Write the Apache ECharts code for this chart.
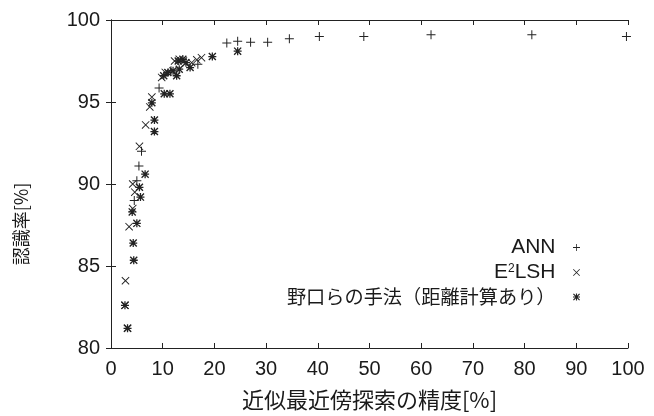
<!DOCTYPE html>
<html><head><meta charset="utf-8">
<script src="https://cdn.jsdelivr.net/npm/echarts@6/dist/echarts.min.js"></script>
<style>html,body{margin:0;padding:0;background:#fff}#c{width:654px;height:416px}</style>
</head><body><div id="c"></div>
<script>
const seriesNames = ['ANN', 'E2LSH', '野口らの手法（距離計算あり）'];
const ann = [[4.5,89.0],[5.0,90.2],[5.4,91.1],[5.9,92.0],[9.3,95.85],[11.6,96.9],[16.8,97.3],
  [22.4,98.6],[24.5,98.7],[27.0,98.65],[30.3,98.65],[34.5,98.85],[40.3,99.0],[48.9,99.0],[61.9,99.1],[81.4,99.1],[99.7,99.0]];
const e2lsh = [[2.7,82.6],[2.8,84.1],[3.2,81.2],[3.5,87.4],[4.2,88.5],[4.2,90.0],[4.6,89.5],[5.5,92.3],
  [6.7,93.6],[7.5,94.7],[7.9,95.3],[9.8,96.5],[10.5,96.8],[12.3,97.5],[13.2,97.6],[14.0,97.5],[15.6,97.4],[16.6,97.57],[17.5,97.7]];
const noguchi = [[2.7,82.6],[3.2,81.2],[4.4,85.35],[4.3,86.4],[5.0,87.6],[4.1,88.3],[5.7,89.2],[5.5,89.8],[6.6,90.6],
  [8.4,93.2],[8.4,93.9],[7.9,94.95],[10.3,95.5],[11.4,95.5],[10.2,96.6],[11.0,96.8],[12.0,96.9],[12.7,96.6],[13.2,97.0],
  [13.0,97.5],[13.9,97.6],[14.5,97.4],[15.3,97.1],[19.6,97.77],[24.5,98.1]];

const PLUS = 'path://M0,4.45H10V5.55H0Z M4.45,0H5.55V10H4.45Z';
const CROSS = 'path://M0,0.8L0.8,0L10,9.2L9.2,10Z M9.2,0L10,0.8L0.8,10L0,9.2Z';
const STAR = 'path://M0,1.2L1.2,0L10,8.8L8.8,10Z M8.8,0L10,1.2L1.2,10L0,8.8Z M0,4.2H10V5.8H0Z M4.2,0H5.8V10H4.2Z M3,3H7V7H3Z';
const INK = '#222';
const TXT = '#1a1a1a';
const FONT = '"Liberation Sans", Arial, "Noto Sans CJK JP", sans-serif';
const JFONT = '"Noto Sans CJK JP", "Liberation Sans", sans-serif';

const chart = echarts.init(document.getElementById('c'), null, {renderer: 'canvas'});
const axisCommon = {
  min: 0, max: 100, interval: 10,
  axisLine: {show: true, lineStyle: {color: INK, width: 1}},
  axisTick: {show: true, inside: true, length: 5, lineStyle: {color: INK}},
  splitLine: {show: false}
};
chart.setOption({
  animation: false,
  textStyle: {fontFamily: FONT},
  grid: {left: 111, right: 26, top: 20, bottom: 67},
  legend: {
    orient: 'vertical', right: 69, top: 232, align: 'right',
    itemWidth: 32, itemHeight: 7, itemGap: 4,
    textStyle: {fontFamily: FONT, fontSize: 21, color: TXT, lineHeight: 20,
      rich: {
        sup: {fontSize: 12, fontFamily: FONT, color: TXT, verticalAlign: 'top', lineHeight: 12},
        jp: {fontSize: 19.2, fontFamily: JFONT, color: TXT, lineHeight: 20}
      }},
    formatter: n => n === 'E2LSH' ? 'E{sup|2}LSH' : (n === seriesNames[2] ? '{jp|' + n + '}' : n),
    data: [
      {name: seriesNames[0], icon: PLUS},
      {name: seriesNames[1], icon: CROSS},
      {name: seriesNames[2], icon: STAR}
    ]
  },
  xAxis: [
    Object.assign({}, axisCommon, {type: 'value', position: 'bottom',
      name: '近似最近傍探索の精度[%]', nameLocation: 'middle', nameGap: 41,
      nameTextStyle: {fontSize: 22, color: TXT, fontFamily: JFONT},
      axisLabel: {fontSize: 20, color: TXT, margin: 11, fontFamily: FONT}}),
    Object.assign({}, axisCommon, {type: 'value', position: 'top', axisLabel: {show: false}})
  ],
  yAxis: [
    Object.assign({}, axisCommon, {type: 'value', min: 80, max: 100, interval: 5, position: 'left',
      name: '認識率[%]', nameLocation: 'middle', nameGap: 81,
      nameTextStyle: {fontSize: 18, color: TXT, fontFamily: JFONT, padding: [0, 80, 0, 0]},
      axisLabel: {fontSize: 20, color: TXT, margin: 11, fontFamily: FONT}}),
    Object.assign({}, axisCommon, {type: 'value', min: 80, max: 100, interval: 5, position: 'right', axisLabel: {show: false}})
  ],
  series: [
    {name: seriesNames[0], type: 'scatter', data: ann, symbol: PLUS, symbolSize: 9, itemStyle: {color: INK, opacity: 1}},
    {name: seriesNames[1], type: 'scatter', data: e2lsh, symbol: CROSS, symbolSize: 8, itemStyle: {color: INK, opacity: 1}},
    {name: seriesNames[2], type: 'scatter', data: noguchi, symbol: STAR, symbolSize: 8, itemStyle: {color: INK, opacity: 1}}
  ]
});
</script></body></html>
